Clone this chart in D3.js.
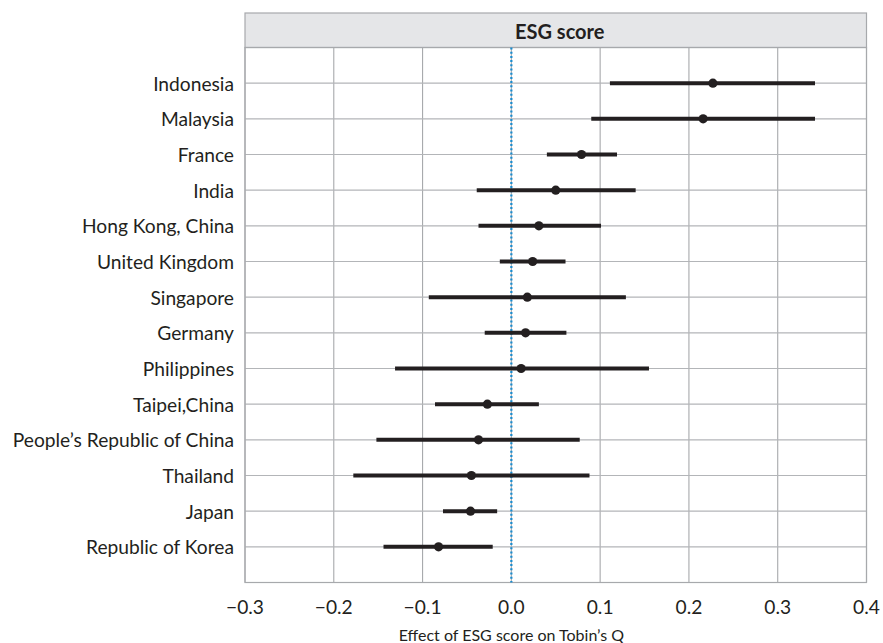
<!DOCTYPE html>
<html>
<head>
<meta charset="utf-8">
<script src="https://cdn.jsdelivr.net/npm/d3@7"></script>
<style>
  html, body { margin: 0; padding: 0; background: #fff; }
  svg text { font-family: "Lato", "Open Sans", sans-serif; fill: #231f20; }
</style>
</head>
<body>
<svg id="chart" width="883" height="643"></svg>
<script>
// Country-level estimates of the ESG score effect on Tobin's Q, with confidence bounds
const countries = [
  "Indonesia", "Malaysia", "France", "India", "Hong Kong, China", "United Kingdom",
  "Singapore", "Germany", "Philippines", "Taipei,China",
  "People\u2019s Republic of China", "Thailand", "Japan", "Republic of Korea"
];
const estimate = [0.227, 0.216, 0.079, 0.050, 0.031, 0.024, 0.018, 0.016, 0.011, -0.027, -0.037, -0.045, -0.046, -0.082];
const lower    = [0.111, 0.090, 0.040, -0.039, -0.037, -0.013, -0.093, -0.030, -0.131, -0.086, -0.152, -0.178, -0.077, -0.144];
const upper    = [0.342, 0.342, 0.119, 0.140, 0.101, 0.061, 0.129, 0.062, 0.155, 0.031, 0.077, 0.088, -0.016, -0.021];
const xTicks   = [-0.3, -0.2, -0.1, 0.0, 0.1, 0.2, 0.3, 0.4];
const panelTitle = "ESG score";
const xTitle = "Effect of ESG score on Tobin\u2019s Q";

const svg = d3.select("#chart");
const plotLeft = 245, plotRight = 866.5, headTop = 13, plotTop = 47.5, plotBottom = 582.5;

const x = d3.scaleLinear().domain([-0.3, 0.4]).range([plotLeft, plotRight]);
const y = d3.scalePoint().domain(countries).range([plotTop, plotBottom]).padding(1);

// strip header
svg.append("rect")
  .attr("x", plotLeft).attr("y", headTop)
  .attr("width", plotRight - plotLeft).attr("height", plotTop - headTop)
  .attr("fill", "#e5e6e8").attr("stroke", "#a7a9ac").attr("stroke-width", 1.2);
svg.append("text")
  .attr("x", (plotLeft + plotRight) / 2 + 4).attr("y", (headTop + plotTop) / 2 + 1)
  .attr("text-anchor", "middle").attr("dominant-baseline", "central")
  .attr("font-size", 20).attr("font-weight", 700)
  .text(panelTitle);

const plot = svg.append("g");

// grid
plot.selectAll(".vgrid").data(xTicks).join("line")
  .attr("class", "vgrid")
  .attr("x1", d => x(d)).attr("x2", d => x(d))
  .attr("y1", plotTop).attr("y2", plotBottom)
  .attr("stroke", "#a7a9ac").attr("stroke-width", 1.1);
plot.selectAll(".hgrid").data(countries).join("line")
  .attr("class", "hgrid")
  .attr("x1", plotLeft).attr("x2", plotRight)
  .attr("y1", d => y(d)).attr("y2", d => y(d))
  .attr("stroke", "#b3b5b8").attr("stroke-width", 1.1);

// panel border
plot.append("rect")
  .attr("x", plotLeft).attr("y", plotTop)
  .attr("width", plotRight - plotLeft).attr("height", plotBottom - plotTop)
  .attr("fill", "none").attr("stroke", "#a7a9ac").attr("stroke-width", 1.2);

// reference line at zero
plot.append("line")
  .attr("x1", x(0)).attr("x2", x(0))
  .attr("y1", plotTop).attr("y2", plotBottom)
  .attr("stroke", "#1a8ccf").attr("stroke-width", 2.2)
  .attr("stroke-dasharray", "2,2.2");

// intervals and point estimates
const rows = countries.map((c, i) => ({ c, est: estimate[i], lo: lower[i], hi: upper[i] }));
plot.selectAll(".ci").data(rows).join("line")
  .attr("class", "ci")
  .attr("x1", d => x(d.lo)).attr("x2", d => x(d.hi))
  .attr("y1", d => y(d.c)).attr("y2", d => y(d.c))
  .attr("stroke", "#231f20").attr("stroke-width", 4);
plot.selectAll(".pt").data(rows).join("circle")
  .attr("class", "pt")
  .attr("cx", d => x(d.est)).attr("cy", d => y(d.c))
  .attr("r", 4.6).attr("fill", "#231f20");

// category labels
svg.selectAll(".ylab").data(countries).join("text")
  .attr("class", "ylab")
  .attr("x", 234).attr("y", d => y(d))
  .attr("text-anchor", "end").attr("dominant-baseline", "central")
  .attr("font-size", 19.2)
  .text(d => d);

// x tick labels
const fmt = d => (d < 0 ? "\u2212" : "") + Math.abs(d).toFixed(1);
svg.selectAll(".xlab").data(xTicks).join("text")
  .attr("class", "xlab")
  .attr("x", d => x(d)).attr("y", 606)
  .attr("text-anchor", "middle").attr("dominant-baseline", "central")
  .attr("font-size", 19.2)
  .text(fmt);

svg.append("text")
  .attr("x", x(0)).attr("y", 634)
  .attr("text-anchor", "middle").attr("dominant-baseline", "central")
  .attr("font-size", 16)
  .text(xTitle);
</script>
</body>
</html>
